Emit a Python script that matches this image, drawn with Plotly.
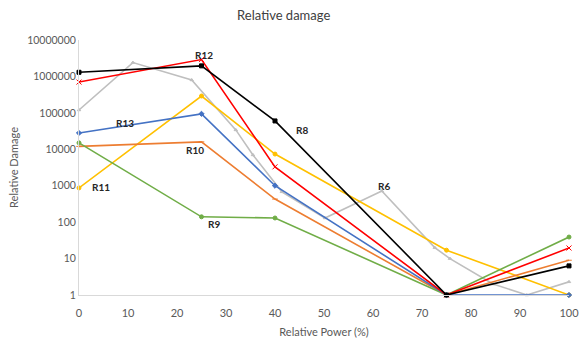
import math
import plotly.graph_objects as go

x_main = [0, 25, 40, 75, 100]
r8 = [1.3e6, 1.95e6, 6.0e4, 1, 6.3]
r12 = [7.0e5, 2.9e6, 3300, 1, 19.5]
r13 = [2.8e4, 9.4e4, 1000, 1, 1]
r10 = [1.2e4, 1.6e4, 430, 1, 9]
r9 = [1.5e4, 140, 130, 1, 39]
r11 = [870, 2.9e5, 7400, 17, 1]

x_r6 = [0, 11, 23, 32, 35.5, 41.4, 50.2, 61.8, 72.6, 75.7, 84.5, 91.4, 100]
r6 = [1.2e5, 2.4e6, 8.0e5, 3.4e4, 7000, 680, 130, 720, 20, 10, 2, 1, 2.3]

series = [
    ("R6", x_r6, r6, "#bfbfbf", "triangle-up", 3),
    ("R11", x_main, r11, "#ffc000", "circle", 4),
    ("R10", x_main, r10, "#ed7d31", "line-ew", 4),
    ("R9", x_main, r9, "#70ad47", "circle", 4),
    ("R13", x_main, r13, "#4472c4", "diamond", 4),
    ("R12", x_main, r12, "#ff0000", "x-thin", 5),
    ("R8", x_main, r8, "#000000", "square", 4),
]

fig = go.Figure()
for name, xs, ys, col, sym, sz in series:
    fig.add_trace(go.Scatter(
        x=xs, y=ys, mode="lines+markers", name=name,
        line=dict(color=col, width=1.6),
        marker=dict(color=col, symbol=sym, size=sz, line=dict(color=col, width=1)),
        showlegend=False, cliponaxis=False,
    ))

labels = [
    ("R12", 25.5, 3.9e6),
    ("R13", 9.3, 5.2e4),
    ("R10", 23.7, 9.5e3),
    ("R11", 4.4, 900),
    ("R9", 27.5, 90),
    ("R8", 45.5, 3.3e4),
    ("R6", 62.2, 1.0e3),
]
for t, lx, ly in labels:
    fig.add_annotation(x=lx, y=math.log10(ly), text="<b>" + t + "</b>",
                       showarrow=False, font=dict(size=10, color="#262626"))

fig.update_layout(
    width=579, height=340,
    margin=dict(l=79, r=10, t=40, b=45),
    paper_bgcolor="white", plot_bgcolor="white",
    font=dict(family="Lato, Open Sans, sans-serif", color="#595959", size=11),
    title=dict(text="Relative damage", x=0.49, xanchor="center", y=0.955, yanchor="middle",
               font=dict(size=13, color="#404040")),
    xaxis=dict(range=[0, 100], tickvals=list(range(0, 101, 10)), showgrid=False,
               showline=True, linecolor="#d9d9d9", linewidth=1, zeroline=False,
               ticks="", ticklabelstandoff=8, ticklabeloverflow="allow", automargin=False,
               tickfont=dict(size=11),
               title=dict(text="Relative Power (%)", standoff=10, font=dict(size=11))),
    yaxis=dict(type="log", range=[0, 7], tickvals=[1, 10, 100, 1000, 1e4, 1e5, 1e6, 1e7],
               ticktext=["1", "10", "100", "1000", "10000", "100000", "1000000", "10000000"],
               showgrid=False, showline=True, linecolor="#d9d9d9", linewidth=1, zeroline=False,
               ticks="", tickfont=dict(size=10.5), automargin=False,
               title=dict(text="Relative Damage", standoff=6, font=dict(size=11))),
)

fig.write_html("out.html")
